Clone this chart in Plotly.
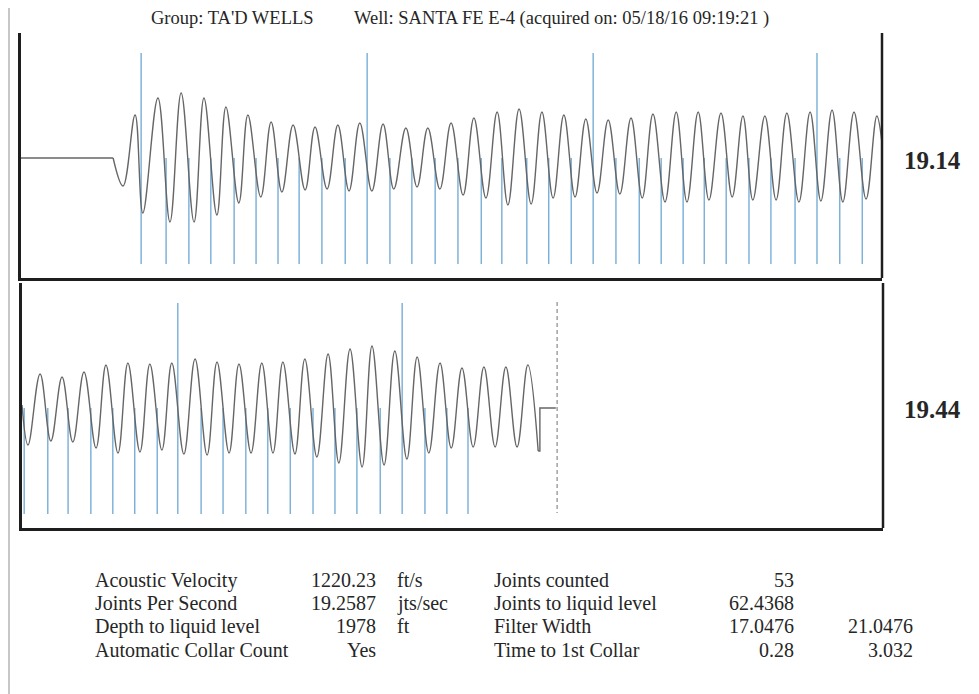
import plotly.graph_objects as go

W, H = 979, 694
# the page body adds an 8px margin around the plot div; positions below are page pixels
OFF = 8

# ---------------- data (time in seconds, amplitude in arbitrary units) ----------------
top_flat_t = [0.0, 0.214]
top_flat_amp = [0, 0]

top_t = [0.214, 0.237, 0.265, 0.283, 0.318, 0.346, 0.372, 0.402, 0.425, 0.455,
         0.476, 0.506, 0.527, 0.557, 0.581, 0.606, 0.632, 0.660, 0.683, 0.711,
         0.736, 0.762, 0.787, 0.815, 0.841, 0.866, 0.894, 0.920, 0.945, 0.973,
         0.999, 1.027, 1.052, 1.080, 1.106, 1.131, 1.157, 1.185, 1.210, 1.236,
         1.261, 1.287, 1.312, 1.338, 1.364, 1.391, 1.417, 1.443, 1.468, 1.496,
         1.522, 1.547, 1.573, 1.598, 1.626, 1.652, 1.677, 1.700, 1.728, 1.754,
         1.779, 1.807, 1.833, 1.858, 1.884, 1.909, 1.935, 1.963, 1.988, 2.000]
top_amp = [0, -28, 43, -55, 60, -64, 65, -64, 60, -57,
           51, -45, 43, -39, 36, -34, 33, -32, 31, -31,
           33, -33, 35, -33, 34, -31, 30, -29, 30, -31,
           35, -37, 40, -40, 46, -47, 49, -46, 46, -40,
           43, -39, 39, -35, 38, -36, 40, -40, 44, -44,
           46, -44, 46, -42, 45, -39, 42, -42, 42, -42,
           45, -44, 46, -43, 48, -44, 46, -41, 42, 15]

bot_t = [2.000, 2.014, 2.042, 2.067, 2.093, 2.118, 2.144, 2.172, 2.195, 2.223,
         2.246, 2.274, 2.297, 2.325, 2.348, 2.376, 2.402, 2.430, 2.453, 2.481,
         2.504, 2.532, 2.557, 2.583, 2.606, 2.634, 2.657, 2.685, 2.711, 2.736,
         2.762, 2.790, 2.813, 2.841, 2.866, 2.894, 2.918, 2.945, 2.971, 2.997,
         3.022, 3.048, 3.073, 3.099, 3.124, 3.150, 3.175, 3.199]
bot_amp = [3, -37, 34, -33, 31, -34, 36, -40, 43, -45,
           45, -44, 44, -42, 45, -46, 49, -47, 46, -45,
           44, -45, 45, -45, 46, -46, 49, -49, 54, -55,
           59, -59, 62, -57, 57, -51, 51, -45, 45, -40,
           40, -39, 41, -39, 41, -39, 43, -43]
bot_tail_t = [3.199, 3.203, 3.203, 3.240]
bot_tail_amp = [-43, -43, 0, 0]

top_collars = [0.279, 0.337, 0.390, 0.441, 0.495, 0.546, 0.597, 0.646, 0.699, 0.753,
               0.804, 0.857, 0.908, 0.962, 1.015, 1.069, 1.117, 1.175, 1.226, 1.278,
               1.329, 1.382, 1.436, 1.487, 1.538, 1.587, 1.638, 1.691, 1.742, 1.798,
               1.849, 1.902, 1.954]
top_collars_tall = [0.279, 0.804, 1.329, 1.849]
bot_collars = [2.005, 2.060, 2.107, 2.160, 2.211, 2.262, 2.314, 2.362, 2.416, 2.467,
               2.520, 2.571, 2.623, 2.676, 2.727, 2.778, 2.832, 2.883, 2.936, 2.987,
               3.036]
bot_collars_tall = [2.362, 2.883]
liquid_level_t = 3.243

panel_ranges = [[0.0, 2.0], [2.0, 4.0]]
panel_rates = ["19.14", "19.44"]

title_group = "Group: TA'D WELLS"
title_well = "Well: SANTA FE E-4 (acquired on: 05/18/16 09:19:21 )"

labels_left = ["Acoustic Velocity", "Joints Per Second", "Depth to liquid level", "Automatic Collar Count"]
values_left = ["1220.23", "19.2587", "1978", "Yes"]
units_left = ["ft/s", "jts/sec", "ft", ""]
labels_right = ["Joints counted", "Joints to liquid level", "Filter Width", "Time to 1st Collar"]
values_right_a = ["53", "62.4368", "17.0476", "0.28"]
values_right_b = ["", "", "21.0476", "3.032"]

# ---------------- styling ----------------
WAVE_COLOR = "#666666"
COLLAR_COLOR = "#5398cc"
AXIS_COLOR = "#1e1e1e"
TEXT_COLOR = "#262626"
FONT = "Liberation Serif"
COLLAR_LOW, COLLAR_HIGH = -106, 105
Y_RANGE = [-120, 125]


def px_x(p):
    return (p - OFF) / W


def px_y(p):
    return 1 - (p - OFF) / H


def collar_xy(times, tall):
    xs, ys = [], []
    for t in times:
        xs += [t, t, None]
        ys += [COLLAR_HIGH if t in tall else 0, COLLAR_LOW, None]
    return xs, ys


fig = go.Figure()

# top panel
cx, cy = collar_xy(top_collars, top_collars_tall)
fig.add_trace(go.Scatter(x=cx, y=cy, mode="lines", line=dict(color=COLLAR_COLOR, width=1.1),
                         xaxis="x", yaxis="y", hoverinfo="skip"))
fig.add_trace(go.Scatter(x=top_flat_t, y=top_flat_amp, mode="lines",
                         line=dict(color=WAVE_COLOR, width=1.4), xaxis="x", yaxis="y"))
fig.add_trace(go.Scatter(x=top_t, y=top_amp, mode="lines",
                         line=dict(color=WAVE_COLOR, width=1.4, shape="spline", smoothing=1.1),
                         xaxis="x", yaxis="y"))

# bottom panel
cx, cy = collar_xy(bot_collars, bot_collars_tall)
fig.add_trace(go.Scatter(x=cx, y=cy, mode="lines", line=dict(color=COLLAR_COLOR, width=1.1),
                         xaxis="x2", yaxis="y2", hoverinfo="skip"))
fig.add_trace(go.Scatter(x=bot_t, y=bot_amp, mode="lines",
                         line=dict(color=WAVE_COLOR, width=1.4, shape="spline", smoothing=1.1),
                         xaxis="x2", yaxis="y2"))
fig.add_trace(go.Scatter(x=bot_tail_t, y=bot_tail_amp, mode="lines",
                         line=dict(color=WAVE_COLOR, width=1.4), xaxis="x2", yaxis="y2"))
fig.add_trace(go.Scatter(x=[liquid_level_t, liquid_level_t], y=[COLLAR_HIGH + 1, COLLAR_LOW + 1],
                         mode="lines", line=dict(color="#8a8a8a", width=1.2, dash="4px,3px"),
                         xaxis="x2", yaxis="y2"))

axis_common = dict(showgrid=False, zeroline=False, showticklabels=False, ticks="",
                   showline=True, linecolor=AXIS_COLOR, linewidth=2.5, fixedrange=True)

fig.update_layout(
    width=W, height=H,
    margin=dict(l=0, r=0, t=0, b=0),
    paper_bgcolor="white", plot_bgcolor="white",
    showlegend=False,
    xaxis=dict(domain=[px_x(21), px_x(882)], range=panel_ranges[0], anchor="y", **axis_common),
    yaxis=dict(domain=[px_y(278), px_y(33)], range=Y_RANGE, anchor="x", **axis_common),
    xaxis2=dict(domain=[px_x(22), px_x(883)], range=panel_ranges[1], anchor="y2", **axis_common),
    yaxis2=dict(domain=[px_y(528), px_y(283)], range=Y_RANGE, anchor="x2", **axis_common),
)

shapes = []
for xr, yr in [("x", "y"), ("x2", "y2")]:
    shapes.append(dict(type="line", xref=f"{xr} domain", yref=f"{yr} domain",
                       x0=1, x1=1, y0=0, y1=1, line=dict(color=AXIS_COLOR, width=2.5)))
# scanned page edge
shapes.append(dict(type="line", xref="paper", yref="paper", x0=px_x(9), x1=px_x(9), y0=0, y1=1,
                   line=dict(color="#b5b5b5", width=1.5)))
fig.update_layout(shapes=shapes)

ann = []


def txt(text, px, py, size, anchor="left", bold=False):
    ann.append(dict(text=f"<b>{text}</b>" if bold else text, x=px_x(px), y=px_y(py),
                    xref="paper", yref="paper", xanchor=anchor, yanchor="middle",
                    showarrow=False, font=dict(family=FONT, size=size, color=TEXT_COLOR)))


txt(title_group, 149, 18, 18.5)
txt(title_well, 352, 18, 18.5)
txt(panel_rates[0], 902, 160, 25, bold=True)
txt(panel_rates[1], 902, 410, 25, bold=True)

row_y = [580, 603, 626, 650]
for i, ry in enumerate(row_y):
    txt(labels_left[i], 93, ry, 20)
    txt(values_left[i], 378, ry, 20, anchor="right")
    if units_left[i]:
        txt(units_left[i], 395, ry, 20)
    txt(labels_right[i], 492, ry, 20)
    txt(values_right_a[i], 796, ry, 20, anchor="right")
    if values_right_b[i]:
        txt(values_right_b[i], 915, ry, 20, anchor="right")

fig.update_layout(annotations=ann)

fig.write_html("out.html")
